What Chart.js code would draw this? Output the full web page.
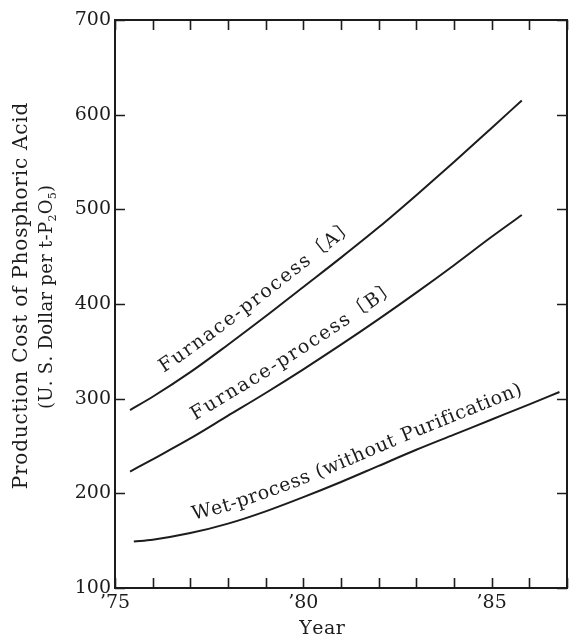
<!DOCTYPE html>
<html>
<head>
<meta charset="utf-8">
<script src="https://cdn.jsdelivr.net/npm/chart.js@4.4.1/dist/chart.umd.min.js"></script>
<style>
  html, body { margin: 0; padding: 0; background: #fff; }
  #wrap { width: 579px; height: 640px; }
</style>
</head>
<body>
<div id="wrap"><canvas id="chart" width="579" height="640"></canvas></div>
<script>
// ── Data ───────────────────────────────────────────────────
const yearsA = [75.4, 76, 77, 78, 79, 80, 81, 82, 83, 84, 85, 85.8];
const costA  = [288, 302, 328, 357, 387, 418, 449, 481, 515, 550, 586, 615];

const yearsB = [75.4, 76, 77, 78, 79, 80, 81, 82, 83, 84, 85, 85.8];
const costB  = [223, 236, 258, 282, 306, 331, 357, 384, 412, 441, 471, 494];

const yearsWet = [75.5, 76, 77, 78, 79, 80, 81, 82, 83, 84, 85, 86, 86.8];
const costWet  = [149, 151, 158, 168, 181, 196, 212, 229, 246, 262, 278, 294, 307];

const xTickYears  = [75, 76, 77, 78, 79, 80, 81, 82, 83, 84, 85, 86, 87];
const xLabelYears = [75, 80, 85];
const xLabelTexts = ["\u201975", "\u201980", "\u201985"];
const yTickValues = [100, 200, 300, 400, 500, 600, 700];

const INK = "#1c1c1c";
const SERIF = "'DejaVu Serif', 'Liberation Serif', serif";

const toPoints = (xs, ys) => xs.map((x, i) => ({ x, y: ys[i] }));

/* ── text helpers ───────────────────────────────────────────*/
// draws runs of text char by char, centred on (0,0), subscripts smaller & lower
function drawRuns(ctx, runs, size, spacing) {
  const chars = [];
  runs.forEach(r => {
    for (const ch of r.t) chars.push({ ch, sub: !!r.sub });
  });
  let total = 0;
  chars.forEach(c => {
    ctx.font = `${c.sub ? Math.round(size * 0.62) : size}px ${SERIF}`;
    c.w = ctx.measureText(c.ch).width;
    total += c.w + spacing;
  });
  total -= spacing;
  let x = -total / 2;
  chars.forEach(c => {
    ctx.font = `${c.sub ? Math.round(size * 0.62) : size}px ${SERIF}`;
    ctx.fillText(c.ch, x, c.sub ? size * 0.22 : 0);
    x += c.w + spacing;
  });
}

// writes text along a data curve, `offset` px above it, starting at year `fromYear`
function drawOnCurve(chart, text, xs, ys, fromYear, offset, size, spacing) {
  const { ctx, scales: { x, y } } = chart;
  const pts = xs.map((v, i) => [x.getPixelForValue(v), y.getPixelForValue(ys[i])]);
  const cum = [0];
  for (let i = 1; i < pts.length; i++) {
    cum.push(cum[i - 1] + Math.hypot(pts[i][0] - pts[i - 1][0], pts[i][1] - pts[i - 1][1]));
  }
  const at = s => {
    s = Math.max(0, Math.min(cum[cum.length - 1], s));
    let i = 1;
    while (i < cum.length - 1 && cum[i] < s) i++;
    const t = (s - cum[i - 1]) / (cum[i] - cum[i - 1]);
    return [pts[i - 1][0] + (pts[i][0] - pts[i - 1][0]) * t,
            pts[i - 1][1] + (pts[i][1] - pts[i - 1][1]) * t];
  };
  let k = 0;
  while (k < xs.length - 2 && xs[k + 1] < fromYear) k++;
  let s = cum[k] + (cum[k + 1] - cum[k]) * (fromYear - xs[k]) / (xs[k + 1] - xs[k]);

  ctx.font = `${size}px ${SERIF}, 'Noto Sans CJK JP'`;
  for (const ch of text) {
    const w = ctx.measureText(ch).width;
    const c = s + w / 2;
    const p = at(c), p0 = at(c - 25), p1 = at(c + 25);
    const a = Math.atan2(p1[1] - p0[1], p1[0] - p0[0]);
    const nx = Math.sin(a), ny = -Math.cos(a);
    ctx.save();
    ctx.translate(p[0] + nx * offset, p[1] + ny * offset);
    ctx.rotate(a);
    ctx.fillText(ch, -w / 2, 0);
    ctx.restore();
    s += w + spacing;
  }
}

/* ── frame, inward ticks, titles, curve labels ──────────────*/
const framePlugin = {
  id: "frame",
  afterDatasetsDraw(chart) {
    const { ctx, chartArea: a, scales: { x, y } } = chart;
    ctx.save();
    ctx.strokeStyle = INK;
    ctx.lineWidth = 2;
    ctx.strokeRect(a.left, a.top, a.right - a.left, a.bottom - a.top);
    ctx.lineWidth = 1.6;
    ctx.beginPath();
    xTickYears.forEach(v => {
      const px = Math.round(x.getPixelForValue(v)) + 0.5;
      ctx.moveTo(px, a.bottom); ctx.lineTo(px, a.bottom - 10);
      ctx.moveTo(px, a.top); ctx.lineTo(px, a.top + 10);
    });
    yTickValues.forEach(v => {
      const py = Math.round(y.getPixelForValue(v)) + 0.5;
      ctx.moveTo(a.left, py); ctx.lineTo(a.left + 10, py);
      ctx.moveTo(a.right, py); ctx.lineTo(a.right - 10, py);
    });
    ctx.stroke();
    ctx.restore();
  },
  afterDraw(chart) {
    const { ctx } = chart;
    ctx.save();
    ctx.fillStyle = INK;
    ctx.textBaseline = "alphabetic";
    ctx.textAlign = "left";

    // y-axis title, two lines, reading bottom to top
    ctx.save();
    ctx.translate(27, 296);
    ctx.rotate(-Math.PI / 2);
    drawRuns(ctx, [{ t: "Production Cost of Phosphoric Acid" }], 20, 0.8);
    ctx.restore();

    ctx.save();
    ctx.translate(52, 297);
    ctx.rotate(-Math.PI / 2);
    drawRuns(ctx, [
      { t: "(U. S. Dollar per t-P" }, { t: "2", sub: true },
      { t: "O" }, { t: "5", sub: true }, { t: ")" }
    ], 18, 0.3);
    ctx.restore();

    // x-axis title
    ctx.save();
    ctx.translate(322, 634);
    drawRuns(ctx, [{ t: "Year" }], 19, 0.5);
    ctx.restore();

    // curve labels
    drawOnCurve(chart, "Furnace-process\u3014A\u3015", yearsA, costA, 76.5, 14, 19, 1.8);
    drawOnCurve(chart, "Furnace-process\u3014B\u3015", yearsB, costB, 77.3, 13, 19, 1.8);
    drawOnCurve(chart, "Wet-process (without Purification)", yearsWet, costWet, 77.16, 12, 19, 0.7);
    ctx.restore();
  }
};

/* ── chart ──────────────────────────────────────────────────*/
const lineStyle = {
  borderColor: INK,
  borderWidth: 2,
  pointRadius: 0,
  fill: false,
  showLine: true,
  cubicInterpolationMode: "monotone"
};

new Chart(document.getElementById("chart"), {
  type: "scatter",
  data: {
    datasets: [
      { label: "Furnace-process (A)", data: toPoints(yearsA, costA), ...lineStyle },
      { label: "Furnace-process (B)", data: toPoints(yearsB, costB), ...lineStyle },
      { label: "Wet-process (without Purification)", data: toPoints(yearsWet, costWet), ...lineStyle }
    ]
  },
  options: {
    responsive: false,
    animation: false,
    devicePixelRatio: 1,
    layout: { padding: { top: 20, right: 12, left: 0, bottom: 0 } },
    plugins: { legend: { display: false }, tooltip: { enabled: false } },
    scales: {
      x: {
        type: "linear",
        min: 75, max: 87,
        afterBuildTicks: s => { s.ticks = xTickYears.map(v => ({ value: v })); },
        afterFit: s => { s.height = 52; },
        grid: { display: false, drawTicks: false },
        border: { display: false },
        ticks: {
          autoSkip: false, maxRotation: 0, padding: 4,
          color: INK, font: { family: SERIF, size: 19 },
          callback: v => {
            const i = xLabelYears.indexOf(v);
            return i >= 0 ? xLabelTexts[i] : "";
          }
        }
      },
      y: {
        min: 100, max: 700,
        afterBuildTicks: s => { s.ticks = yTickValues.map(v => ({ value: v })); },
        afterFit: s => { s.width = 115; },
        grid: { display: false, drawTicks: false },
        border: { display: false },
        ticks: { padding: 4, color: INK, font: { family: SERIF, size: 19 } }
      }
    }
  },
  plugins: [framePlugin]
});
</script>
</body>
</html>
